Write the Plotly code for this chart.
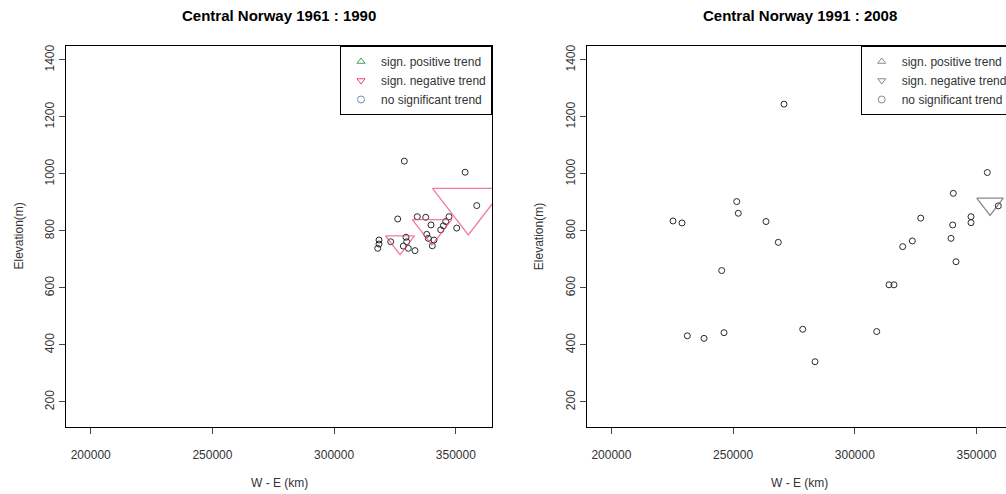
import plotly.graph_objects as go

W, H = 1006, 494

# ---------------- data ----------------
x_ticks = [200000, 250000, 300000, 350000]
x_tick_labels = ["200000", "250000", "300000", "350000"]
y_ticks = [200, 400, 600, 800, 1000, 1200, 1400]
y_tick_labels = ["200", "400", "600", "800", "1000", "1200", "1400"]

titles = ["Central Norway 1961 : 1990", "Central Norway 1991 : 2008"]
legend_labels = ["sign. positive trend", "sign. negative trend", "no significant trend"]

# panel 1 (1961-1990)
p1_none_x = [328840, 353810, 358590, 326130, 334180, 337630, 347210, 345850, 339810,
             344870, 343800, 338050, 338700, 341040, 340350, 350370, 318450, 318450,
             317910, 323250, 329540, 329830, 328430, 333240, 330490]
p1_none_y = [1045, 1006, 889, 842, 850, 848, 850, 833, 821, 818, 804, 788, 774, 768,
             748, 810, 768, 754, 739, 762, 778, 762, 747, 731, 739]
p1_neg_x = [327080, 340220, 355140]
p1_neg_y = [761, 810, 895]
p1_neg_trend = [2.5, 3.4, 6.2]

# panel 2 (1991-2008)
p2_none_x = [270910, 225310, 229010, 251480, 252140, 263520, 268570, 245320, 231180,
             238050, 246260, 278600, 309000, 283650, 354440, 340470, 358960, 347740,
             347740, 340220, 339530, 341580, 323630, 319680, 327080, 314050, 316100]
p2_none_y = [1245, 835, 828, 903, 862, 833, 760, 661, 432, 423, 443, 455, 447, 341,
             1005, 932, 888, 850, 829, 821, 774, 692, 765, 745, 845, 611, 611]
p2_neg_x = [355560]
p2_neg_y = [895]
p2_neg_trend = [2.3]

# ---------------- styling / layout ----------------
FONT = "Liberation Sans, Arial, Helvetica, sans-serif"
TXT = "#333333"
PINK = "#e8437a"
GREEN = "#3aa35a"
BLUEGRAY = "#6f8fb0"
GRAY = "#555555"
SIZE_SCALE = 10

x_range = [189850, 364870]
y_range = [112, 1449]
left1, right1 = 66, 492
shift = 520.7
left2 = left1 + shift
top_px, bot_px = 46, 427
units_per_px = (x_range[1] - x_range[0]) / (right1 - left1)
x_range2 = [x_range[0], x_range[0] + (W - left2) * units_per_px]

fig = go.Figure()


def add_panel(xa, ya, none_x, none_y, neg_x, neg_y, neg_trend, neg_col, legend_id, leg_cols):
    fig.add_trace(go.Scatter(
        x=none_x, y=none_y, mode="markers", xaxis=xa, yaxis=ya, showlegend=False,
        marker=dict(symbol="circle-open", size=6, color="#2a2a2a", line=dict(width=1)),
    ))
    fig.add_trace(go.Scatter(
        x=neg_x, y=neg_y, mode="markers", xaxis=xa, yaxis=ya, showlegend=False,
        marker=dict(symbol="triangle-down-open", size=[t * SIZE_SCALE for t in neg_trend],
                    color=neg_col, line=dict(width=1.3)),
    ))
    symbols = ["triangle-up-open", "triangle-down-open", "circle-open"]
    for lab, sym, col in zip(legend_labels, symbols, leg_cols):
        fig.add_trace(go.Scatter(
            x=[None], y=[None], mode="markers", xaxis=xa, yaxis=ya, name=lab,
            legend=legend_id,
            marker=dict(symbol=sym, size=7, color=col, line=dict(width=1)),
        ))


add_panel("x", "y", p1_none_x, p1_none_y, p1_neg_x, p1_neg_y, p1_neg_trend, PINK,
          "legend", [GREEN, PINK, BLUEGRAY])
add_panel("x2", "y2", p2_none_x, p2_none_y, p2_neg_x, p2_neg_y, p2_neg_trend, GRAY,
          "legend2", ["#888888", "#888888", "#888888"])

ydom = [(H - bot_px) / H, (H - top_px) / H]


def xaxis_style(dom, rng):
    return dict(domain=dom, range=rng, showline=True, linecolor="black", linewidth=1,
                mirror=True, ticks="outside", ticklen=6, tickcolor="#444",
                tickvals=x_ticks, ticktext=x_tick_labels, showgrid=False, zeroline=False,
                tickfont=dict(family=FONT, size=12, color=TXT), ticklabelstandoff=11)


def yaxis_style(anchor, mirror):
    return dict(domain=ydom, range=y_range, anchor=anchor, showline=True, linecolor="black",
                linewidth=1, mirror=mirror, ticks="outside", ticklen=6, tickcolor="#444",
                tickvals=y_ticks, ticktext=y_tick_labels, tickangle=-90, showgrid=False,
                zeroline=False, tickfont=dict(family=FONT, size=12, color=TXT),
                ticklabelstandoff=0)


legend_common = dict(bgcolor="white", bordercolor="black", borderwidth=1,
                     font=dict(family=FONT, size=12, color=TXT), tracegroupgap=0,
                     itemwidth=30, yanchor="top", xanchor="right", y=ydom[1])

fig.update_layout(
    width=W, height=H, margin=dict(l=0, r=0, t=0, b=0, autoexpand=False),
    paper_bgcolor="white", plot_bgcolor="white",
    xaxis=xaxis_style([left1 / W, right1 / W], x_range),
    yaxis=yaxis_style("x", True),
    xaxis2=dict(**xaxis_style([left2 / W, 1.0], x_range2), anchor="y2"),
    yaxis2=yaxis_style("x2", False),
    legend=dict(**legend_common, x=right1 / W),
    legend2=dict(**legend_common, x=(right1 + shift) / W),
    showlegend=True,
)

annots = []
for i, t in enumerate(titles):
    cx = (left1 + right1) / 2 + i * shift
    annots.append(dict(text="<b>" + t + "</b>", x=cx / W, y=1 - 15 / H, xref="paper",
                       yref="paper", showarrow=False, xanchor="center", yanchor="middle",
                       font=dict(family=FONT, size=15, color="black")))
    annots.append(dict(text="W - E (km)", x=cx / W, y=1 - 483 / H, xref="paper",
                       yref="paper", showarrow=False, xanchor="center", yanchor="middle",
                       font=dict(family=FONT, size=12, color=TXT)))
    annots.append(dict(text="Elevation(m)", x=(18 + i * shift) / W,
                       y=1 - ((top_px + bot_px) / 2) / H, xref="paper", yref="paper",
                       showarrow=False, textangle=-90, xanchor="center", yanchor="middle",
                       font=dict(family=FONT, size=12, color=TXT)))
fig.update_layout(annotations=annots)

fig.write_html("out.html")
